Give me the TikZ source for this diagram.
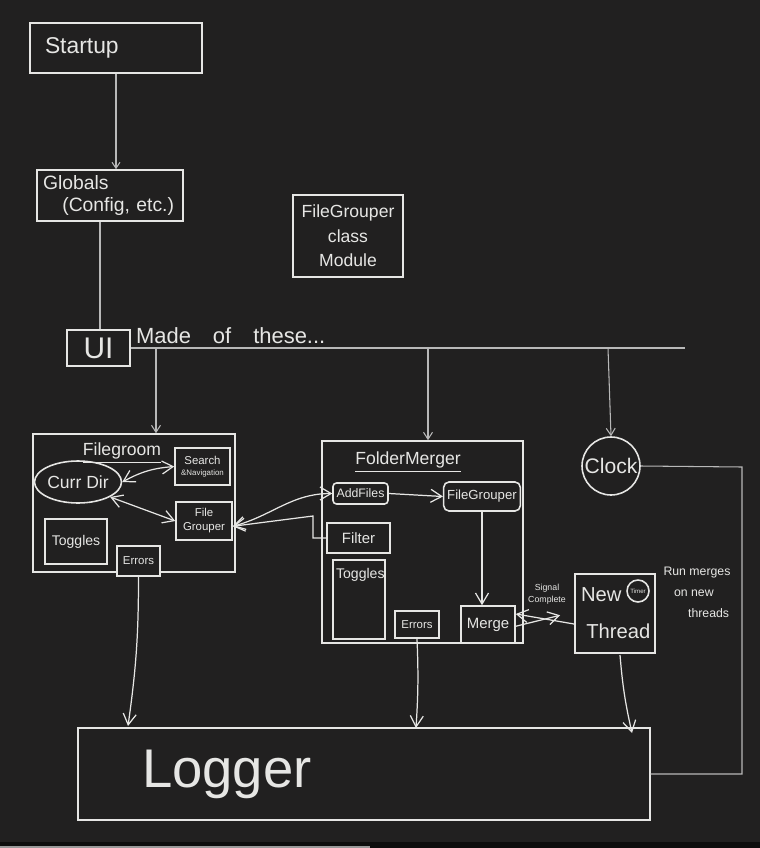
\documentclass[tikz,border=0pt]{standalone}
\usepackage{fontspec}
\setmainfont{Liberation Sans}
\usetikzlibrary{shapes, arrows.meta, positioning, fit, backgrounds}
\usepackage{xcolor}

\definecolor{board}{HTML}{212020}
\definecolor{chalk}{HTML}{E6E6E4}
\definecolor{wire}{HTML}{B8B8B8}

\begin{document}
\begin{tikzpicture}[x=0.02cm, y=-0.02cm,
        box/.style={draw=chalk, line width=0.9pt, text=chalk, align=center, inner sep=2pt},
        lbl/.style={text=chalk, align=center, inner sep=1pt},
        link/.style={draw=chalk, line width=0.7pt, -{Straight Barb[length=2.2mm, width=2.6mm]}},
        twoway/.style={draw=chalk, line width=0.7pt, {Straight Barb[length=2.2mm, width=2.6mm]}-{Straight Barb[length=2.2mm, width=2.6mm]}},
        thin/.style={draw=wire, line width=0.6pt}
    ]
        % Board
        \useasboundingbox (0,0) rectangle (760,848);
        \fill[board] (0,0) rectangle (760,848);
        \fill[black!60!board] (0,842) rectangle (760,848);
        \fill[black!40] (0,846) rectangle (370,848);

        % Top of the chain
        \node[box, align=left, text width=2.84cm, inner xsep=0.3cm, minimum height=1cm,
            font=\fontsize{13}{15}\selectfont] (startup) at (116,48) {Startup};
        \node[box, align=left, text width=2.68cm, inner xsep=0.12cm, minimum height=1.02cm,
            font=\fontsize{11}{12}\selectfont] (globals) at (110,195.5)
            {Globals\\\quad(Config, etc.)};
        \node[box, minimum width=1.26cm, minimum height=0.72cm,
            font=\fontsize{17}{18}\selectfont] (ui) at (98.5,348) {UI};
        \node[lbl, anchor=south west, font=\fontsize{12.5}{13}\selectfont] (madeof) at (134,346)
            {Made\quad of\quad these...};

        \node[box, minimum width=2.2cm, minimum height=1.64cm,
            font=\fontsize{10}{14}\selectfont] (module) at (348,236)
            {FileGrouper\\class\\Module};

        \draw[thin, -{Straight Barb[length=1.2mm, width=1.6mm]}] (startup) -- (globals.north -| startup);
        \draw[thin] (globals.south -| 100,0) -- (ui.north -| 100,0);

        % Bus from UI
        \coordinate (busend) at (685,348);
        \coordinate (tapA) at (156,348);
        \coordinate (tapB) at (428,348);
        \coordinate (tapC) at (608,348);
        \draw[thin] (ui.east) -- (busend);

        % Filegroom panel
        \node[box, minimum width=4.04cm, minimum height=2.76cm] (fgroom) at (134,503) {};
        \node[lbl, font=\fontsize{10}{11}\selectfont] (fgtitle) at (122,453) {\underline{Filegroom}};
        \node[box, ellipse, minimum width=1.5cm, minimum height=0.84cm, inner sep=0pt,
            font=\fontsize{10}{11}\selectfont] (currdir) at (78,482) {Curr Dir};
        \node[box, minimum width=1.1cm, minimum height=0.74cm, inner sep=1pt,
            font=\fontsize{6.5}{6}\selectfont] (search) at (202.5,466.5)
            {Search\\{\fontsize{4.5}{5}\selectfont\&Navigation}};
        \node[box, minimum width=1.12cm, minimum height=0.76cm,
            font=\fontsize{6.5}{8}\selectfont] (fggrouper) at (204,521) {File\\Grouper};
        \node[box, minimum width=1.24cm, minimum height=0.9cm,
            font=\fontsize{8}{9}\selectfont] (fgtoggles) at (76,541.5) {Toggles};
        \node[box, fill=board, minimum width=0.86cm, minimum height=0.6cm,
            font=\fontsize{6.5}{7}\selectfont] (fgerrors) at (138.5,561) {Errors};

        \draw[twoway] (currdir.east) to[bend left=12] (search.west);
        \draw[twoway] (currdir.-25) -- (fggrouper.west);

        % FolderMerger panel
        \node[box, minimum width=4.02cm, minimum height=4.04cm] (fmerger) at (422.5,542) {};
        \node[lbl, font=\fontsize{10}{11}\selectfont] (fmtitle) at (408,462) {\underline{FolderMerger}};
        \node[box, rounded corners=2pt, minimum width=1.1cm, minimum height=0.42cm,
            font=\fontsize{7}{8}\selectfont] (addfiles) at (360.5,493.5) {AddFiles};
        \node[box, rounded corners=3pt, minimum width=1.44cm, minimum height=0.58cm,
            font=\fontsize{7.5}{8}\selectfont] (fmgrouper) at (482,496.5) {FileGrouper};
        \node[box, minimum width=1.26cm, minimum height=0.6cm,
            font=\fontsize{8.5}{9}\selectfont] (filter) at (358.5,538) {Filter};
        \node[box, minimum width=1.04cm, minimum height=1.58cm,
            label={[lbl, anchor=north west, inner xsep=2pt, inner ysep=5pt, font=\fontsize{8}{9}\selectfont]north west:Toggles}]
            (fmtoggles) at (359,599.5) {};
        \node[box, minimum width=0.88cm, minimum height=0.54cm,
            font=\fontsize{6.5}{7}\selectfont] (fmerrors) at (417,624.5) {Errors};
        \node[box, minimum width=1.08cm, minimum height=0.74cm,
            font=\fontsize{8.5}{9}\selectfont] (merge) at (488,624.5) {Merge};

        \draw[link] (addfiles.east) -- (fmgrouper.west);
        \draw[link] (fmgrouper.south -| 482,0) -- (merge.north -| 482,0);

        % Between the panels
        \coordinate (elbow) at (313,516);
        \draw[twoway] ([yshift=-3pt]fggrouper.east) to[out=15, in=180] (addfiles.west);
        \draw[link] (filter.west) -| (elbow) -- ([yshift=-3pt]fggrouper.east);

        % Clock and thread
        \node[box, circle, minimum size=1.16cm, inner sep=0pt,
            font=\fontsize{12}{13}\selectfont] (clock) at (611,466) {Clock};
        \node[box, align=left, text width=1.36cm, inner xsep=0.12cm, minimum height=1.58cm,
            font=\fontsize{11.5}{21}\selectfont] (thread) at (615,613.5)
            {New\\\hspace*{3pt}Thread};
        \node[box, circle, minimum size=0.44cm, inner sep=0pt,
            font=\fontsize{3.5}{4}\selectfont] (timer) at (638,591) {Timer};
        \node[lbl, align=left, font=\fontsize{7}{12}\selectfont] (runnote) at (697,592)
            {Run merges\\\hspace*{6pt}on new\\\hspace*{14pt}threads};

        \draw[link] ([yshift=-6pt]thread.west) -- ([yshift=6pt]merge.east);
        \node[lbl, font=\fontsize{5}{7}\selectfont] (signal) at (547,594)
            {Signal\\Complete};
        \draw[link] ([yshift=-1pt]merge.east) -- ([xshift=-8pt, yshift=-1pt]thread.west);

        % Taps off the bus
        \draw[thin, -{Straight Barb[length=1.4mm, width=1.8mm]}] (tapA) -- (tapA |- fgroom.north);
        \draw[thin, -{Straight Barb[length=1.4mm, width=1.8mm]}] (tapB) -- (tapB |- fmerger.north);
        \draw[thin, -{Straight Barb[length=1.4mm, width=1.8mm]}] (tapC) -- (clock.north);

        % Logger
        \node[box, align=left, text width=8.88cm, inner xsep=1.28cm, minimum height=1.84cm,
            font=\fontsize{31}{31}\selectfont] (logger) at (364,774) {\raisebox{-6pt}{Logger}};
        \coordinate (clockturn) at (742,467);
        \draw[thin] (clock.east) -- (clockturn) |- (logger.east);

        \draw[link] (fgerrors.south) to[bend left=4] (128,726);
        \draw[link] (fmerrors.south) to[bend left=3] (416,728);
        \draw[link] (620,655) to[bend right=4] (632,733);
    \end{tikzpicture}
\end{document}
